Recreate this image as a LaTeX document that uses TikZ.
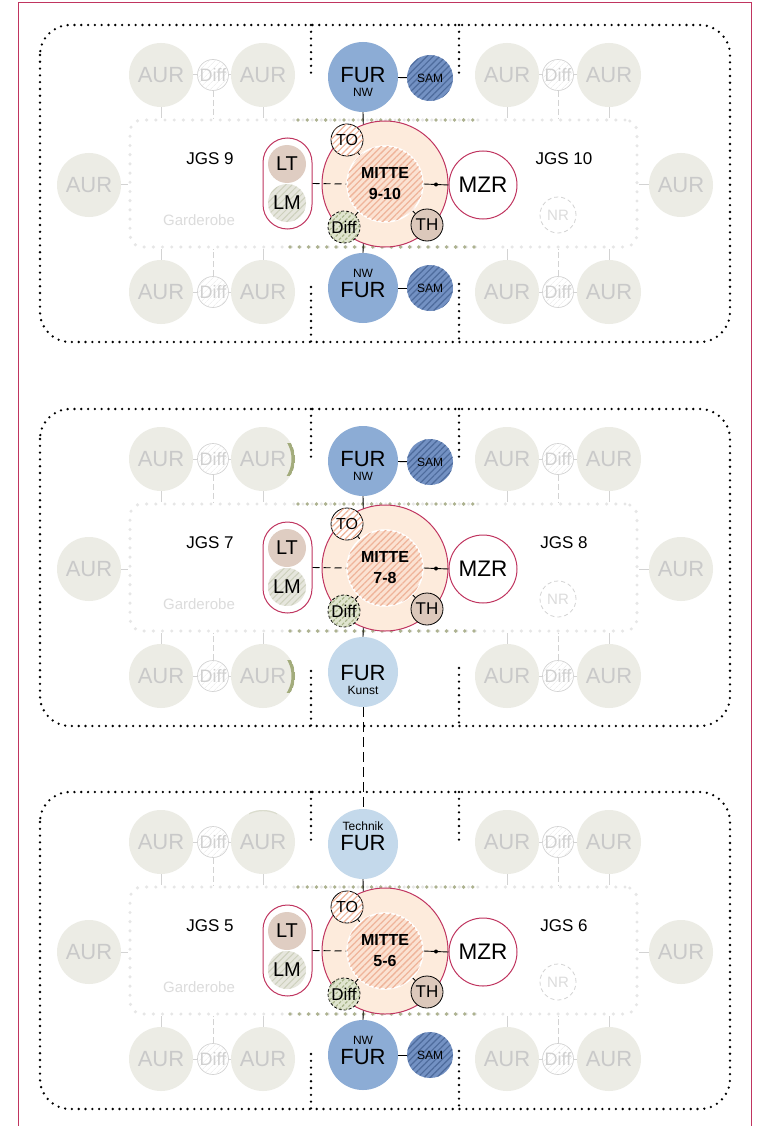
\documentclass[tikz,border=0pt]{standalone}
\usepackage{fontspec}
\setmainfont{Liberation Sans}
\usetikzlibrary{patterns.meta}
\definecolor{crim}{HTML}{C03560}
\definecolor{peach}{HTML}{FDEBDC}
\definecolor{peachin}{HTML}{FBE2D2}
\definecolor{salmon}{HTML}{EFB49A}
\definecolor{furnwc}{HTML}{8CACD5}
\definecolor{furltc}{HTML}{C4D9EB}
\definecolor{samc}{HTML}{7391C3}
\definecolor{samh}{HTML}{4E6B9C}
\definecolor{tanc}{HTML}{DCC8BB}
\definecolor{ltc}{HTML}{DFCDC2}
\definecolor{lmfill}{HTML}{E6E6DD}
\definecolor{lmhatch}{HTML}{CDD0BC}
\definecolor{greenf}{HTML}{E0E5CF}
\definecolor{greenh}{HTML}{A9B58A}
\definecolor{aurfill}{HTML}{ECECE5}
\definecolor{aurtext}{HTML}{C9C9C9}
\definecolor{lgray}{HTML}{D3D3D3}
\definecolor{hatchlight}{HTML}{E8E8E8}
\definecolor{difftext}{HTML}{D0D0D0}
\definecolor{gardtext}{HTML}{DCDCDC}
\definecolor{roomdotc}{HTML}{E6E6E6}
\definecolor{olivec}{HTML}{ADB290}
\definecolor{olivecr}{HTML}{A3AC7C}
\tikzset{
 outerdot/.style={line width=2.6pt, dash pattern=on 0pt off 6.8pt, line cap=round, draw=black},
 roomnode/.style={draw=roomdotc, line width=3.4pt, dash pattern=on 0pt off 9.2pt, line cap=round, rounded corners=12pt, minimum width=507pt, minimum height=127pt, inner sep=0pt},
 olivedot/.style={draw=olivec, line width=3.8pt, dash pattern=on 0pt off 9.2pt, line cap=round},
 aur/.style={circle, fill=aurfill, minimum size=64pt, inner sep=0pt, text=aurtext, font=\fontsize{22}{22}\selectfont},
 ldiff/.style={circle, draw=lgray, line width=0.7pt, fill=white, postaction={pattern={Lines[angle=45,distance=4pt,line width=0.6pt]}, pattern color=hatchlight}, minimum size=31pt, inner sep=0pt, text=difftext, font=\fontsize{18}{18}\selectfont},
 lconn/.style={draw=lgray, line width=1pt},
 ldash/.style={draw=lgray, line width=1pt, dash pattern=on 6pt off 3pt},
 conn/.style={draw=black, line width=0.9pt},
 dconn/.style={draw=black, line width=0.9pt, dash pattern=on 7pt off 4pt},
 longdash/.style={draw=black, line width=0.9pt, dash pattern=on 10pt off 5pt},
 mitteout/.style={circle, draw=crim, line width=1pt, fill=peach, minimum size=126pt, inner sep=0pt},
 mittein/.style={circle, draw=white, line width=1.5pt, fill=peachin, postaction={pattern={Lines[angle=45,distance=4.5pt,line width=1.3pt]}, pattern color=salmon}, minimum size=76pt, inner sep=0pt, font=\bfseries\fontsize{16}{21}\selectfont, align=center},
 tonode/.style={circle, draw=black, line width=0.8pt, fill=white, postaction={pattern={Lines[angle=45,distance=4.5pt,line width=1.2pt]}, pattern color=salmon}, minimum size=32pt, inner sep=0pt, font=\fontsize{16}{16}\selectfont},
 thnode/.style={circle, draw=black, line width=0.8pt, fill=tanc, minimum size=32pt, inner sep=0pt, font=\fontsize{17}{17}\selectfont},
 gdiff/.style={circle, draw=black, line width=0.8pt, dash pattern=on 3pt off 2pt, fill=greenf, postaction={pattern={Lines[angle=45,distance=4.5pt,line width=1.2pt]}, pattern color=greenh}, minimum size=32pt, inner sep=0pt, font=\fontsize{17}{17}\selectfont},
 capsule/.style={rectangle, draw=crim, line width=1pt, rounded corners=24.5pt, minimum width=49pt, minimum height=91pt, inner sep=0pt},
 ltnode/.style={circle, fill=ltc, minimum size=38pt, inner sep=0pt, font=\fontsize{20}{20}\selectfont},
 lmnode/.style={circle, fill=lmfill, postaction={pattern={Lines[angle=45,distance=4.5pt,line width=1pt]}, pattern color=lmhatch}, minimum size=38pt, inner sep=0pt, font=\fontsize{20}{20}\selectfont},
 mzrnode/.style={circle, draw=crim, line width=1pt, fill=white, minimum size=68pt, inner sep=0pt, font=\fontsize{22.5}{22.5}\selectfont},
 jdot/.style={circle, fill=black, minimum size=4pt, inner sep=0pt},
 furnw/.style={circle, fill=furnwc, minimum size=70pt, inner sep=0pt},
 furlt/.style={circle, fill=furltc, minimum size=70pt, inner sep=0pt},
 furbig/.style={inner sep=0pt, font=\fontsize{22}{22}\selectfont},
 fursmall/.style={inner sep=0pt, font=\fontsize{12}{12}\selectfont},
 samnode/.style={circle, fill=samc, postaction={pattern={Lines[angle=45,distance=4.5pt,line width=1.2pt]}, pattern color=samh}, minimum size=46pt, inner sep=0pt, font=\fontsize{12}{12}\selectfont},
 jgs/.style={inner sep=0pt, font=\fontsize{17}{17}\selectfont},
 gard/.style={inner sep=0pt, text=gardtext, font=\fontsize{15}{15}\selectfont},
 nrnode/.style={circle, draw=lgray, line width=0.8pt, dash pattern=on 4pt off 3pt, minimum size=36pt, inner sep=0pt, text=gardtext, font=\fontsize{15}{15}\selectfont},
}
% #1 suffix, #2 left JGS, #3 right JGS, #4 mitte number
\newcommand\myblock[4]{%
 \draw[outerdot, rounded corners=30pt] (40,25) rectangle (730,342);
 \draw[outerdot] (311,25) -- (311,78);
 \draw[outerdot] (459,25) -- (459,78);
 \draw[outerdot] (311,287) -- (311,342);
 \draw[outerdot] (459,284) -- (459,342);
 \node[roomnode] (room#1) at (383.5,183.5) {};
 \draw[olivedot] (298,120) -- (475,120);
 \draw[olivedot] (290,247) -- (475,247);
 % AUR groups
 \node[aur] (aTLa#1) at (161,75) {AUR};
 \node[ldiff] (dTL#1) at (213,75) {Diff};
 \node[aur] (aTLb#1) at (263,75) {AUR};
 \node[aur] (aTRa#1) at (507,75) {AUR};
 \node[ldiff] (dTR#1) at (558,75) {Diff};
 \node[aur] (aTRb#1) at (609,75) {AUR};
 \node[aur] (aBLa#1) at (161,292) {AUR};
 \node[ldiff] (dBL#1) at (213,292) {Diff};
 \node[aur] (aBLb#1) at (263,292) {AUR};
 \node[aur] (aBRa#1) at (507,292) {AUR};
 \node[ldiff] (dBR#1) at (558,292) {Diff};
 \node[aur] (aBRb#1) at (609,292) {AUR};
 \node[aur] (aL#1) at (89,185) {AUR};
 \node[aur] (aR#1) at (681,185) {AUR};
 \draw[lconn] (aTLa#1) -- (dTL#1) -- (aTLb#1);
 \draw[lconn] (aTRa#1) -- (dTR#1) -- (aTRb#1);
 \draw[lconn] (aBLa#1) -- (dBL#1) -- (aBLb#1);
 \draw[lconn] (aBRa#1) -- (dBR#1) -- (aBRb#1);
 \foreach \n in {aTLa,aTLb,aTRa,aTRb} {\draw[lconn] (\n#1.south) -- (\n#1.south |- room#1.north);}
 \foreach \n in {aBLa,aBLb,aBRa,aBRb} {\draw[lconn] (\n#1.north) -- (\n#1.north |- room#1.south);}
 \foreach \n in {dTL,dTR} {\draw[ldash] (\n#1.south) -- (\n#1.south |- room#1.north);}
 \foreach \n in {dBL,dBR} {\draw[ldash] (\n#1.north) -- (\n#1.north |- room#1.south);}
 \draw[lconn] (aL#1.east) -- (aL#1.east -| room#1.west);
 \draw[lconn] (aR#1.west) -- (aR#1.west -| room#1.east);
 % texts
 \node[jgs] (jl#1) at (210,159) {#2};
 \node[jgs] (jr#1) at (564,159) {#3};
 \node[gard] (gd#1) at (199,220) {Garderobe};
 \node[nrnode] (nr#1) at (558,215) {NR};
 % centre
 \node[capsule] (cap#1) at (287.5,183.5) {};
 \node[ltnode] (lt#1) at (287,164) {LT};
 \node[lmnode] (lm#1) at (287,203) {LM};
 \node[mitteout] (mo#1) at (385,184) {};
 \node[mittein] (mi#1) at (385,184) {MITTE\\#4};
 \node[mzrnode] (mzr#1) at (483,185) {MZR};
 \node[jdot] (jd#1) at (436,184.5) {};
 \draw[conn] (mi#1.east) -- (jd#1) -- (mzr#1.west);
 \draw[dconn] (cap#1.east) -- (mi#1.west);
 \node[tonode] (to#1) at (347,140) {TO};
 \node[thnode] (th#1) at (427,225) {TH};
 \node[gdiff] (gdf#1) at (344,227) {Diff};
 \draw[conn] (to#1) -- (mi#1);
 \draw[conn] (th#1) -- (mi#1);
 \draw[conn] (gdf#1) -- (mi#1);
}
% olive crescent on the right edge of an AUR circle: #1 node name
\newcommand\rcrescent[1]{%
 \begin{scope}
 \clip (#1.center) circle (32);
 \clip ([yshift=16pt]#1.center) rectangle ([shift={(40pt,-16pt)}]#1.center);
 \fill[olivecr, even odd rule] (#1.center) circle (32) ([xshift=-3.5pt]#1.center) circle (32);
 \end{scope}
}
% FUR NW top with SAM: #1 suffix
\newcommand\furnwtop[1]{%
 \node[furnw] (fT#1) at (363,77) {};
 \node[furbig] (fTt#1) at (363,75) {FUR};
 \node[fursmall] (fTs#1) at (363,92) {NW};
 \node[samnode] (sT#1) at (430,78) {SAM};
 \draw[conn] (fT#1) -- (sT#1);
 \draw[conn] (fT#1.south) -- (mo#1.110);
}
\newcommand\furnwbot[1]{%
 \node[furnw] (fB#1) at (363,288) {};
 \node[fursmall] (fBs#1) at (363,273) {NW};
 \node[furbig] (fBt#1) at (363,290) {FUR};
 \node[samnode] (sB#1) at (430,288) {SAM};
 \draw[conn] (fB#1) -- (sB#1);
 \draw[conn] (fB#1.north) -- (mo#1.250);
}
\begin{document}
\begin{tikzpicture}[x=1pt,y=-1pt]
\useasboundingbox (0,0) rectangle (760,1126);
\fill[white] (0,0) rectangle (760,1126);
\draw[crim, line width=1pt] (18,1130) -- (18,3) -- (751,3) -- (751,1130);
% block 1
\myblock{A}{JGS 9}{JGS 10}{9-10}
\furnwtop{A}
\furnwbot{A}
% block 2
\begin{scope}[shift={(0,384)}]
\myblock{B}{JGS 7}{JGS 8}{7-8}
\rcrescent{aTLbB}
\rcrescent{aBLbB}
\furnwtop{B}
\node[furlt] (fBB) at (363,288) {};
\node[furbig] (fBtB) at (363,289) {FUR};
\node[fursmall] (fBsB) at (363,306) {Kunst};
\draw[conn] (fBB.north) -- (moB.250);
\end{scope}
% block 3
\begin{scope}[shift={(0,767)}]
\myblock{C}{JGS 5}{JGS 6}{5-6}
\begin{scope}
\clip (aTLbC.center) circle (32);
\clip ([xshift=-14pt]aTLbC.center) rectangle ([shift={(14pt,40pt)}]aTLbC.center);
\fill[olivec!45, even odd rule] (aTLbC.center) circle (32) ([yshift=-1.2pt]aTLbC.center) circle (32);
\end{scope}
\node[furlt] (fTC) at (363,77) {};
\node[fursmall] (fTsC) at (363,59) {Technik};
\node[furbig] (fTtC) at (363,76) {FUR};
\draw[conn] (fTC.south) -- (moC.110);
\furnwbot{C}
\end{scope}
\draw[longdash] (fBB.south) -- (fTC.north);
\end{tikzpicture}
\end{document}
